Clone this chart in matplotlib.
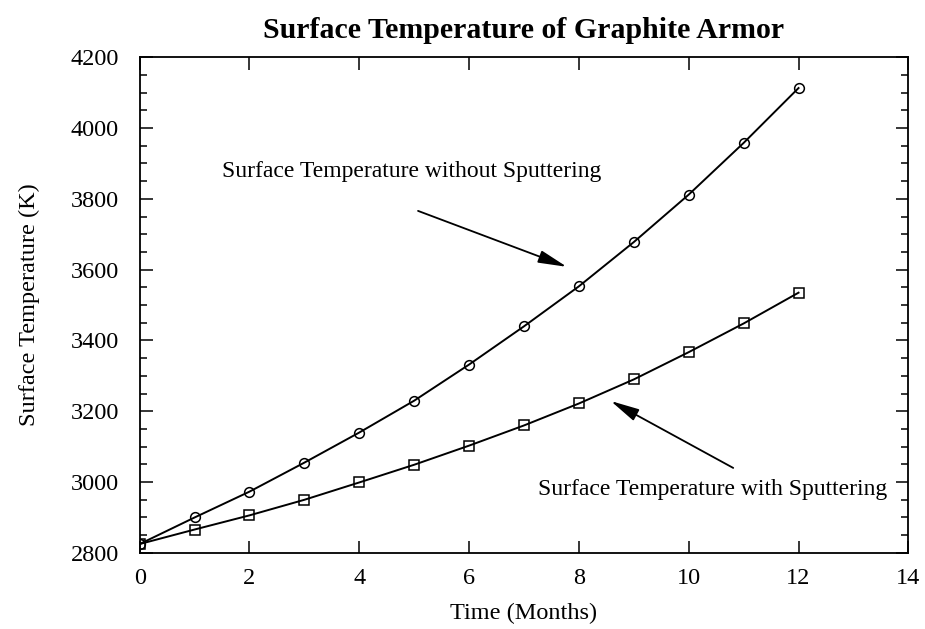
import numpy as np
import matplotlib.pyplot as plt
from matplotlib.ticker import MultipleLocator

# surface temperature (K) of graphite armor vs time (months)
months = [0, 1, 2, 3, 4, 5, 6, 7, 8, 9, 10, 11, 12]
temp_no_sputter = [2825, 2900, 2973, 3055, 3140, 3230, 3332, 3440, 3553, 3678, 3812, 3958, 4113]
temp_sputter = [2825, 2866, 2906, 2950, 2999, 3049, 3103, 3160, 3222, 3290, 3367, 3448, 3535]

plt.rcParams['font.family'] = 'Liberation Serif'
plt.rcParams['font.size'] = 17.5

fig = plt.figure(figsize=(9.25, 6.29), dpi=100)
ax = fig.add_axes([0.151, 0.121, 0.831, 0.788])

ax.plot(months, temp_no_sputter, color='black', lw=1.4, marker='o', ms=7,
        mfc='none', mec='black', mew=1.1)
ax.plot(months, temp_sputter, color='black', lw=1.4, marker='s', ms=7,
        mfc='none', mec='black', mew=1.1)

arrow = dict(arrowstyle='-|>,head_length=1.0,head_width=0.22', color='black', lw=1.3,
             shrinkA=0, shrinkB=0)
ax.text(4.96, 3876, 'Surface Temperature without Sputtering', ha='center', va='center', fontsize=17)
ax.annotate('', xy=(7.78, 3608), xytext=(5.07, 3766), arrowprops=arrow)
ax.text(10.43, 2978, 'Surface Temperature with Sputtering', ha='center', va='center', fontsize=17)
ax.annotate('', xy=(8.58, 3229), xytext=(10.81, 3040), arrowprops=arrow)

ax.set_xlim(0, 14)
ax.set_ylim(2800, 4200)
ax.xaxis.set_major_locator(MultipleLocator(2))
ax.yaxis.set_major_locator(MultipleLocator(200))
ax.yaxis.set_minor_locator(MultipleLocator(50))
ax.tick_params(which='both', direction='in', top=True, right=True, labelsize=17.5, width=1.1)
ax.tick_params(which='major', length=9)
ax.tick_params(which='minor', length=5)
ax.tick_params(axis='y', which='major', pad=15)
ax.tick_params(axis='x', which='major', pad=11)
for s in ax.spines.values():
    s.set_linewidth(1.3)

ax.set_xlabel('Time (Months)', fontsize=17.5, labelpad=10)
ax.set_ylabel('Surface Temperature (K)', fontsize=17.5, labelpad=22)
ax.set_title('Surface Temperature of Graphite Armor', fontsize=21.5, fontweight='bold', pad=14)

fig.savefig('out.png', dpi=100)
